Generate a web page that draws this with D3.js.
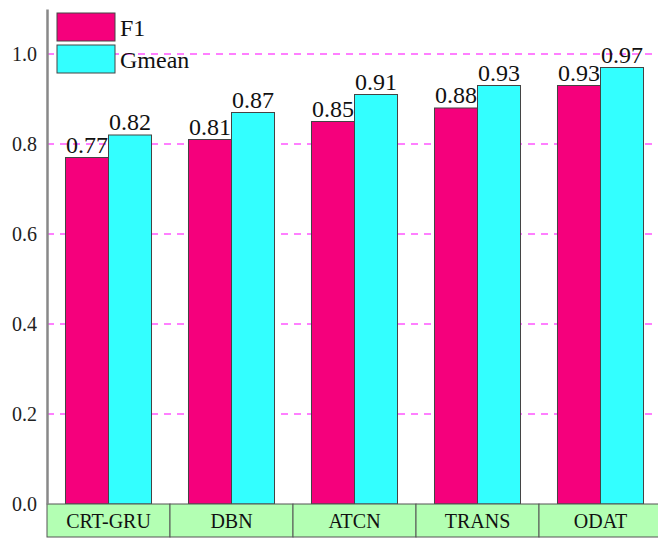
<!DOCTYPE html>
<html>
<head>
<meta charset="utf-8">
<script src="https://cdn.jsdelivr.net/npm/d3@7"></script>
<style>
  html, body { margin: 0; padding: 0; background: #fff; }
  svg text { font-family: "Liberation Serif", "Times New Roman", serif !important; }
</style>
</head>
<body>
<svg id="chart" width="658" height="539"></svg>
<script>
const categories = ["CRT-GRU", "DBN", "ATCN", "TRANS", "ODAT"];
const seriesNames = ["F1", "Gmean"];
const f1Values = [0.77, 0.81, 0.85, 0.88, 0.93];
const gmeanValues = [0.82, 0.87, 0.91, 0.93, 0.97];
const yTicks = [0.0, 0.2, 0.4, 0.6, 0.8, 1.0];
const gridTicks = [0.2, 0.4, 0.6, 0.8, 1.0];
const colors = ["#f5007c", "#33ffff"];

const series = [f1Values, gmeanValues];
const svg = d3.select("#chart");

const width = 658;
const left = 47, right = 662;
const plotBottom = 504;

const x = d3.scaleBand().domain(categories).range([left, right]).padding(0);
const y = d3.scaleLinear().domain([0, 1.1]).range([plotBottom, plotBottom - 495]);
const sub = d3.scaleBand().domain(seriesNames).range([0, x.bandwidth()]).paddingInner(0).paddingOuter(0.43);

// dashed horizontal grid
svg.append("g").selectAll("line").data(gridTicks).join("line")
  .attr("x1", left).attr("x2", width)
  .attr("y1", d => y(d)).attr("y2", d => y(d))
  .attr("stroke", "#ff55ff").attr("stroke-width", 1.3)
  .attr("stroke-dasharray", "7,6");

// bars
const groups = svg.append("g").selectAll("g").data(categories).join("g")
  .attr("transform", c => `translate(${x(c)},0)`);

seriesNames.forEach((s, si) => {
  groups.append("rect")
    .attr("x", sub(s))
    .attr("width", sub.bandwidth())
    .attr("y", (c, i) => y(series[si][i]))
    .attr("height", (c, i) => y(0) - y(series[si][i]))
    .attr("fill", colors[si])
    .attr("stroke", "#444").attr("stroke-width", 1);
});

// value labels
seriesNames.forEach((s, si) => {
  groups.append("text")
    .attr("x", sub(s) + sub.bandwidth() / 2)
    .attr("y", (c, i) => y(series[si][i]) - 5)
    .attr("text-anchor", "middle")
    .attr("font-size", 24)
    .attr("fill", "#111")
    .text((c, i) => series[si][i].toFixed(2));
});

// category band under the axis
const band = svg.append("g");
band.selectAll("rect").data(categories).join("rect")
  .attr("x", c => x(c)).attr("width", x.bandwidth())
  .attr("y", plotBottom).attr("height", 33)
  .attr("fill", "#b3ffb3").attr("stroke", "#555").attr("stroke-width", 1);
band.selectAll("text").data(categories).join("text")
  .attr("x", c => x(c) + x.bandwidth() / 2)
  .attr("y", plotBottom + 24)
  .attr("text-anchor", "middle")
  .attr("font-size", 20)
  .attr("fill", "#111")
  .text(c => c);

// y axis
const yAxis = d3.axisLeft(y).tickValues(yTicks).tickFormat(d3.format(".1f")).tickSize(0).tickPadding(10);
const ya = svg.append("g").attr("transform", `translate(${left},0)`).call(yAxis);
ya.select(".domain").attr("stroke", "#888").attr("stroke-width", 2.5);
ya.selectAll("text").attr("font-size", 20).attr("fill", "#222");

// legend
const legend = svg.append("g");
seriesNames.forEach((s, si) => {
  legend.append("rect")
    .attr("x", 57).attr("y", 13 + si * 32).attr("width", 58).attr("height", 28)
    .attr("fill", colors[si]).attr("stroke", "#444").attr("stroke-width", 1);
  legend.append("text")
    .attr("x", 120).attr("y", 36 + si * 32)
    .attr("font-size", 24).attr("fill", "#111")
    .text(s);
});
</script>
</body>
</html>
